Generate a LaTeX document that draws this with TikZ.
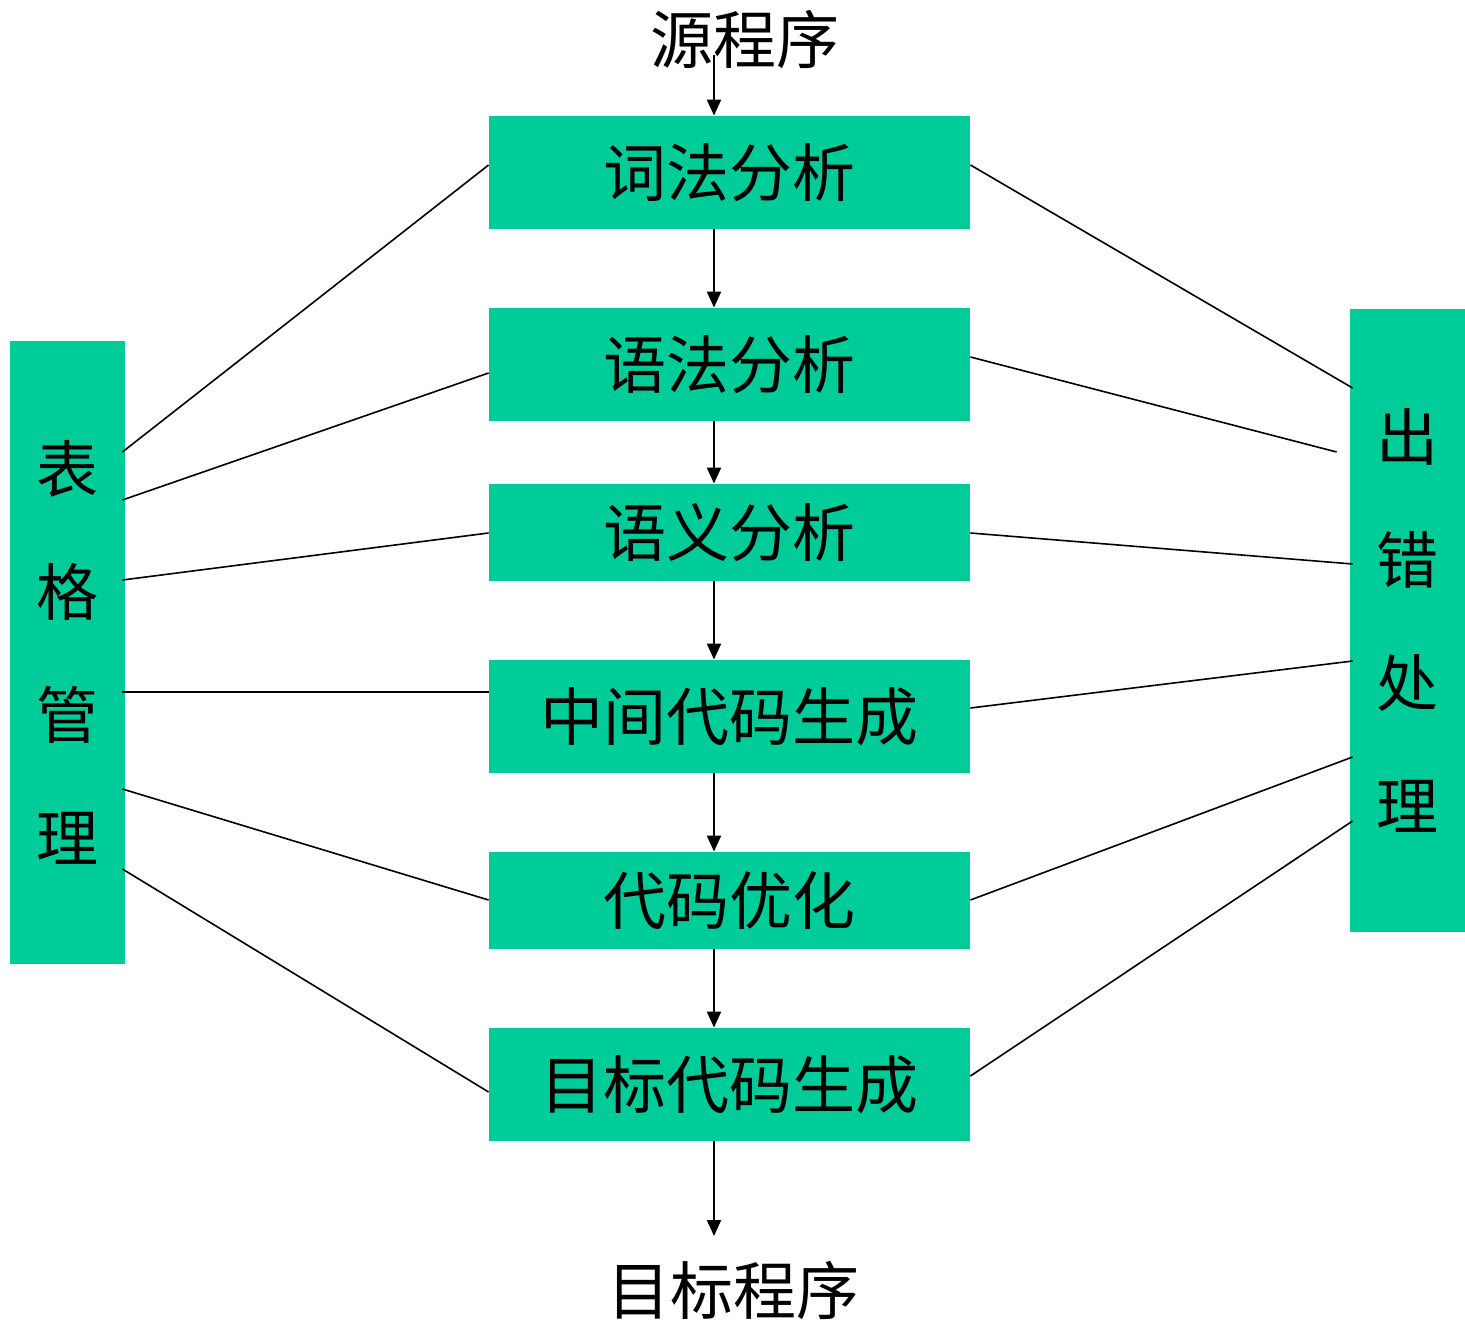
\documentclass[tikz,border=0pt]{standalone}
\usepackage{fontspec}
\newfontfamily\cjk{Noto Sans CJK SC}
\usetikzlibrary{arrows.meta,calc}
\definecolor{boxgreen}{RGB}{0,204,153}
\begin{document}
\begin{tikzpicture}[x=0.5pt,y=-0.5pt,
  stagebox/.style={fill=boxgreen,draw=none,minimum width=240.5pt,inner sep=0pt,font=\cjk\fontsize{31.5}{36}\selectfont},
  sidebox/.style={fill=boxgreen,draw=none,minimum width=57.5pt,minimum height=311.5pt,inner sep=0pt,align=center,font=\cjk\fontsize{31}{61.5}\selectfont},
  plain/.style={inner sep=0pt,font=\cjk\fontsize{31.5}{36}\selectfont},
  arr/.style={line width=1pt,-{Triangle[length=8pt,width=7pt]}},
  link/.style={line width=0.8pt}]
\useasboundingbox (0,0) rectangle (1465,1321);
\node[stagebox,minimum height=56.5pt] (lex) at (729.5,172.5) {词法分析};
\node[stagebox,minimum height=56.5pt] (syn) at (729.5,364.5) {语法分析};
\node[stagebox,minimum height=48.5pt] (sem) at (729.5,532.5) {语义分析};
\node[stagebox,minimum height=56.5pt] (mid) at (729.5,716.5) {中间代码生成};
\node[stagebox,minimum height=48.5pt] (opt) at (729.5,900.5) {代码优化};
\node[stagebox,minimum height=56.5pt] (gen) at (729.5,1084.5) {目标代码生成};
\node[sidebox] (tab) at (67.5,652.5) {表\\格\\管\\理};
\node[sidebox] (err) at (1407.5,620.5) {出\\错\\处\\理};
\node[plain] (src) at (745,40) {源程序};
\node[plain] (dst) at (733,1290) {目标程序};
\coordinate (ax) at (714,0);
\coordinate (s0) at (714,55);
\coordinate (t0) at (714,1236);
\draw[arr] (s0) -- (lex.north -| ax);
\draw[arr] (lex.south -| ax) -- (syn.north -| ax);
\draw[arr] (syn.south -| ax) -- (sem.north -| ax);
\draw[arr] (sem.south -| ax) -- (mid.north -| ax);
\draw[arr] (mid.south -| ax) -- (opt.north -| ax);
\draw[arr] (opt.south -| ax) -- (gen.north -| ax);
\draw[arr] (gen.south -| ax) -- (t0);
% left links
\draw[link] ($(tab.east)+(-3,-200.5)$) -- ($(lex.west)+(0,-7.5)$);
\draw[link] ($(tab.east)+(-3,-152.5)$) -- ($(syn.west)+(0,8.5)$);
\draw[link] ($(tab.east)+(-3,-72.5)$) -- ($(sem.west)+(0,0.5)$);
\draw[link] ($(tab.east)+(-3,39.5)$) -- ($(mid.west)+(0,-24.5)$);
\draw[link] ($(tab.east)+(-3,136.5)$) -- ($(opt.west)+(0,-0.5)$);
\draw[link] ($(tab.east)+(-3,216.5)$) -- ($(gen.west)+(0,7.5)$);
% right links
\draw[link] ($(lex.east)+(0,-7.5)$) -- ($(err.west)+(3,-232.5)$);
\draw[link] ($(syn.east)+(0,-7.5)$) -- ($(err.west)+(-13,-168.5)$);
\draw[link] ($(sem.east)+(0,0.5)$) -- ($(err.west)+(3,-56.5)$);
\draw[link] ($(mid.east)+(0,-8.5)$) -- ($(err.west)+(3,40.5)$);
\draw[link] ($(opt.east)+(0,-0.5)$) -- ($(err.west)+(3,136.5)$);
\draw[link] ($(gen.east)+(0,-8.5)$) -- ($(err.west)+(3,200.5)$);
\end{tikzpicture}
\end{document}
